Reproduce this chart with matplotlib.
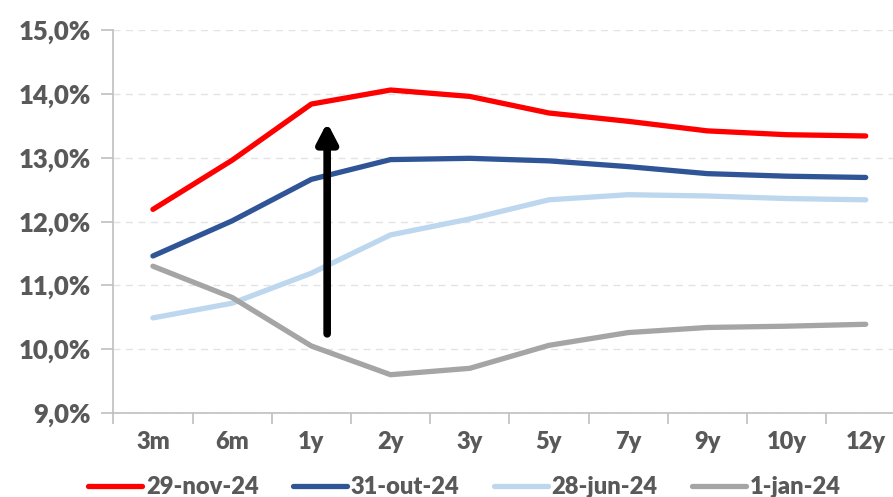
import numpy as np
import matplotlib
matplotlib.use('Agg')
import matplotlib.pyplot as plt
from matplotlib.ticker import FuncFormatter

plt.rcParams['font.family'] = ['Lato', 'DejaVu Sans']
plt.rcParams['font.weight'] = 'heavy'

# dados
maturidades = ['3m', '6m', '1y', '2y', '3y', '5y', '7y', '9y', '10y', '12y']
nov_29 = [12.19, 12.96, 13.84, 14.06, 13.96, 13.70, 13.57, 13.42, 13.36, 13.34]
out_31 = [11.46, 12.01, 12.66, 12.97, 12.99, 12.95, 12.86, 12.75, 12.71, 12.69]
jun_28 = [10.49, 10.72, 11.19, 11.79, 12.04, 12.34, 12.42, 12.40, 12.36, 12.34]
jan_01 = [11.30, 10.81, 10.05, 9.60, 9.70, 10.06, 10.26, 10.34, 10.36, 10.39]
nomes = ['29-nov-24', '31-out-24', '28-jun-24', '1-jan-24']
cores = ['#FF0000', '#2F5597', '#BDD7EE', '#A5A5A5']

texto = '#595959'

fig = plt.figure(figsize=(8.93, 4.97), dpi=100)
ax = fig.add_axes([0.1269, 0.169, 0.8869, 0.7706])

x = np.arange(len(maturidades))
for serie, nome, cor in zip([nov_29, out_31, jun_28, jan_01], nomes, cores):
    ax.plot(x, serie, color=cor, linewidth=3.8, solid_capstyle='round', label=nome)

# seta
ax.annotate('', xy=(2.2, 13.55), xytext=(2.2, 10.24),
            arrowprops=dict(arrowstyle='-|>,head_width=0.6,head_length=1.15',
                            color='black', lw=5.5, shrinkA=0, shrinkB=0))

ax.set_xlim(-0.5, 9.5)
ax.set_ylim(9, 15)
ax.set_yticks(np.arange(9, 15.01, 1))
ax.yaxis.set_major_formatter(FuncFormatter(lambda v, p: f'{v:.1f}%'.replace('.', ',')))
ax.set_xticks(x)
ax.set_xticklabels(maturidades)
ax.set_xticks(np.arange(-0.5, 10, 1), minor=True)

ax.grid(axis='y', color='#E3E3E3', linestyle=(0, (5, 4)), linewidth=1)
ax.set_axisbelow(True)

for s in ['top', 'right']:
    ax.spines[s].set_visible(False)
for s in ['left', 'bottom']:
    ax.spines[s].set_color('#BFBFBF')
    ax.spines[s].set_linewidth(1.2)

ax.tick_params(axis='x', which='major', length=0, pad=13, labelsize=17, labelcolor=texto)
ax.tick_params(axis='x', which='minor', length=8, width=1.2, color='#BFBFBF', direction='out')
ax.tick_params(axis='y', length=9, width=1.2, color='#BFBFBF', pad=7, labelsize=18.5, labelcolor=texto)

leg = fig.legend(loc='center', bbox_to_anchor=(0.52, 0.02), ncol=4, frameon=False,
                 fontsize=17, handlelength=2.3, columnspacing=1.45, handletextpad=0.15)
for t in leg.get_texts():
    t.set_color(texto)

fig.savefig('out.png', dpi=100)
